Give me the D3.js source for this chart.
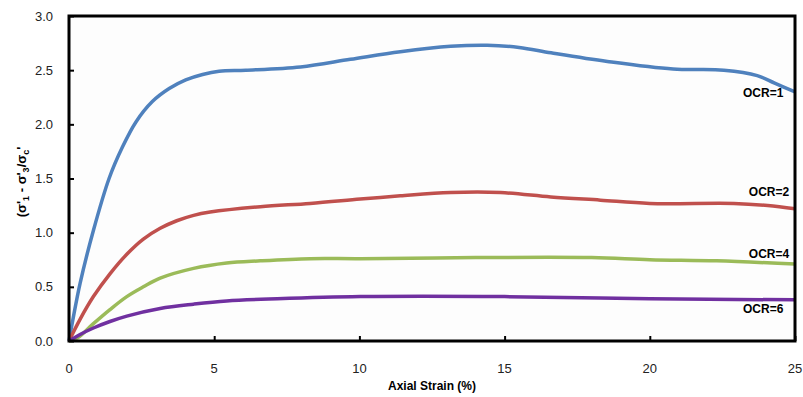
<!DOCTYPE html>
<html>
<head>
<meta charset="utf-8">
<script src="https://cdn.jsdelivr.net/npm/d3@7"></script>
<style>
  body { margin: 0; background: #fff; }
  svg text { font-family: "Liberation Sans", Arial, sans-serif; }
</style>
</head>
<body>
<svg id="chart" width="803" height="397"></svg>
<script>
// values
const xTicks = [0, 5, 10, 15, 20, 25];
const yTicks = [0, 0.5, 1.0, 1.5, 2.0, 2.5, 3.0];

const strain1 = [0, 0.15, 0.38, 0.84, 1.38, 1.84, 2.30, 2.87, 3.45, 4.02, 4.6, 5.17, 6.09, 7.97, 9.69, 11.41, 13.14, 14.4, 15.5, 16.6, 18.54, 20.8, 22.55, 23.7, 24.3, 25];
const ocr1 = [0, 0.22, 0.53, 1.02, 1.50, 1.79, 2.02, 2.21, 2.33, 2.41, 2.46, 2.49, 2.50, 2.53, 2.60, 2.67, 2.72, 2.73, 2.71, 2.66, 2.58, 2.51, 2.50, 2.45, 2.38, 2.30];

const strain2 = [0, 0.38, 0.84, 1.41, 1.99, 2.56, 3.14, 3.71, 4.29, 4.86, 6.59, 8.3, 10.03, 11.41, 13.14, 14.86, 16.59, 18.3, 20.0, 22.9, 24.06, 25];
const ocr2 = [0, 0.20, 0.41, 0.62, 0.80, 0.94, 1.04, 1.11, 1.16, 1.19, 1.24, 1.27, 1.31, 1.34, 1.37, 1.37, 1.33, 1.30, 1.27, 1.27, 1.25, 1.22];

const strain4 = [0, 0.3, 0.84, 1.41, 1.99, 2.56, 3.14, 4.29, 5.43, 6.59, 8.3, 10.03, 14, 18, 20, 22.3, 25];
const ocr4 = [0, 0.03, 0.16, 0.29, 0.41, 0.50, 0.58, 0.67, 0.72, 0.74, 0.76, 0.76, 0.77, 0.77, 0.75, 0.74, 0.71];

const strain6 = [0, 0.38, 0.84, 1.41, 1.99, 3.14, 4.29, 5.43, 7.17, 10.03, 15, 20, 25];
const ocr6 = [0, 0.06, 0.12, 0.18, 0.23, 0.30, 0.34, 0.37, 0.39, 0.41, 0.41, 0.39, 0.38];

const seriesNames = ["OCR=1", "OCR=2", "OCR=4", "OCR=6"];
const seriesColors = ["#4F81BD", "#C0504D", "#9BBB59", "#7030A0"];
const seriesX = [strain1, strain2, strain4, strain6];
const seriesY = [ocr1, ocr2, ocr4, ocr6];
// label anchor (end) positions in data units
const labelX = [24.6, 24.8, 24.8, 24.6];
const labelY = [2.25, 1.34, 0.77, 0.26];

const svg = d3.select("#chart");
const margin = { top: 16, right: 8, bottom: 56, left: 69 };
const width = 803, height = 397;

const x = d3.scaleLinear().domain([0, 25]).range([margin.left, width - margin.right]);
const y = d3.scaleLinear().domain([0, 3]).range([height - margin.bottom, margin.top]);

// plot background
svg.append("rect")
  .attr("x", x(0)).attr("y", y(3))
  .attr("width", x(25) - x(0)).attr("height", y(0) - y(3))
  .attr("fill", "#fdfdfd");

// axes with inward ticks
const xAxis = svg.append("g")
  .attr("transform", `translate(0,${y(0)})`)
  .call(d3.axisTop(x).tickValues(xTicks).tickSize(5).tickFormat(""));
const yAxis = svg.append("g")
  .attr("transform", `translate(${x(0)},0)`)
  .call(d3.axisRight(y).tickValues(yTicks).tickSize(5).tickFormat(""));
[xAxis, yAxis].forEach(a => {
  a.select(".domain").remove();
  a.selectAll(".tick line").attr("stroke", "#000").attr("stroke-width", 2);
});

// tick labels
svg.selectAll(".xlab")
  .data(xTicks)
  .enter().append("text")
  .attr("x", d => x(d))
  .attr("y", 373)
  .attr("text-anchor", "middle")
  .style("font-size", "13px")
  .attr("fill", "#222")
  .text(d => d);

svg.selectAll(".ylab")
  .data(yTicks)
  .enter().append("text")
  .attr("x", 53)
  .attr("y", d => y(d) + 4.5)
  .attr("text-anchor", "end")
  .style("font-size", "13px")
  .attr("fill", "#222")
  .text(d => d.toFixed(1));

// lines
const line = d3.line()
  .x(d => x(d[0]))
  .y(d => y(d[1]))
  .curve(d3.curveCatmullRom.alpha(0.5));

seriesNames.forEach((name, i) => {
  const pts = seriesX[i].map((v, j) => [v, seriesY[i][j]]);
  svg.append("path")
    .datum(pts)
    .attr("fill", "none")
    .attr("stroke", seriesColors[i])
    .attr("stroke-width", 3.5)
    .attr("d", line);
});

// frame on top
svg.append("rect")
  .attr("x", x(0)).attr("y", y(3))
  .attr("width", x(25) - x(0)).attr("height", y(0) - y(3))
  .attr("fill", "none")
  .attr("stroke", "#000").attr("stroke-width", 3);

// series labels
svg.selectAll(".slab")
  .data(seriesNames)
  .enter().append("text")
  .attr("x", (d, i) => x(labelX[i]))
  .attr("y", (d, i) => y(labelY[i]))
  .attr("text-anchor", "end")
  .style("font-size", "12px")
  .style("font-weight", "bold")
  .text(d => d);

// axis titles
svg.append("text")
  .attr("x", 432)
  .attr("y", 390)
  .attr("text-anchor", "middle")
  .style("font-size", "12px")
  .style("font-weight", "bold")
  .text("Axial Strain (%)");

const yt = svg.append("text")
  .attr("transform", "translate(26,182) rotate(-90)")
  .attr("text-anchor", "middle")
  .style("font-size", "13px")
  .style("font-weight", "bold");
yt.append("tspan").text("(σ'");
yt.append("tspan").attr("dy", 3).style("font-size", "9px").text("1");
yt.append("tspan").attr("dy", -3).text(" - σ'");
yt.append("tspan").attr("dy", 3).style("font-size", "9px").text("3");
yt.append("tspan").attr("dy", -3).text("/σ");
yt.append("tspan").attr("dy", 3).style("font-size", "9px").text("c");
yt.append("tspan").attr("dy", -3).text("'");
</script>
</body>
</html>
